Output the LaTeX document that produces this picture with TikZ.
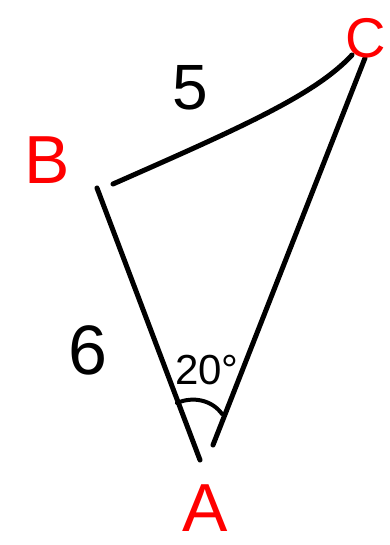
\documentclass[tikz,border=0pt]{standalone}
\usepackage{fontspec}
\setmainfont{Liberation Sans}
\definecolor{penred}{RGB}{255,0,0}
\definecolor{penblack}{RGB}{0,0,0}
\begin{document}
\begin{tikzpicture}[x=1pt,y=-1pt,
  stroke/.style={penblack,line width=5pt,line cap=round,line join=round},
  vlabel/.style={penred,font=\fontsize{68}{68}\selectfont,inner sep=0pt},
  slabel/.style={penblack,font=\fontsize{64}{64}\selectfont,inner sep=0pt}]
  \useasboundingbox (0,0) rectangle (390,545);
  % Stroke ends near the corners
  \coordinate (b1) at (113,184);
  \coordinate (b2) at (97,188);
  \coordinate (c1) at (352,55);
  \coordinate (c2) at (365,58);
  \coordinate (a1) at (200,460);
  \coordinate (a2) at (213,445);
  % Sides
  \draw[stroke] (b1) .. controls (240,128) and (315,95) .. (c1);
  \draw[stroke] (b2) -- (a1);
  \draw[stroke] (c2) -- (a2);
  % Angle mark at A
  \coordinate (m1) at (177,403);
  \coordinate (m2) at (222,414);
  \draw[stroke,line width=4pt] (m1) .. controls (193,396) and (212,400) .. (m2);
  % Corner labels
  \node[vlabel] (lB) at (47,160) {B};
  \node[vlabel,font=\fontsize{56}{56}\selectfont] (lC) at (366,38) {C};
  \node[vlabel] (lA) at (205,508) {A};
  % Side and angle labels
  \node[slabel] (l5) at (190,88) {5};
  \node[slabel,font=\fontsize{70}{70}\selectfont] (l6) at (88,350) {6};
  \node[slabel,font=\fontsize{42}{42}\selectfont] (l20) at (207,370) {20°};
\end{tikzpicture}
\end{document}
